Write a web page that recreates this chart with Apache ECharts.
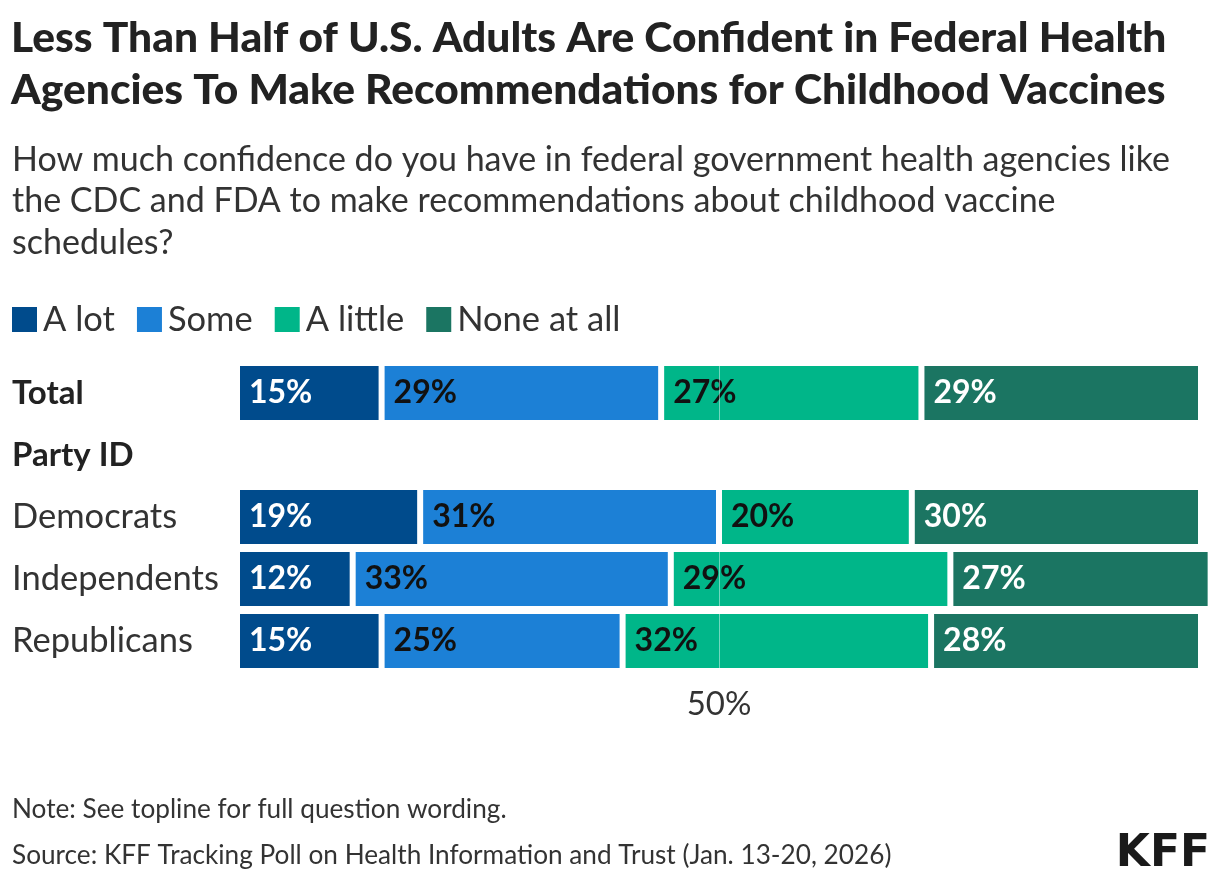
<!DOCTYPE html>
<html>
<head>
<meta charset="utf-8">
<script src="https://cdn.jsdelivr.net/npm/echarts@6/dist/echarts.min.js"></script>
<style>
html,body{margin:0;padding:0;background:#fff;}
#chart{width:1220px;height:882px;}
</style>
</head>
<body>
<div id="chart"></div>
<script>
const categories = ['Total', 'Party ID', 'Democrats', 'Independents', 'Republicans'];
const seriesNames = ['A lot', 'Some', 'A little', 'None at all'];
const aLot = [15, null, 19, 12, 15];
const some = [29, null, 31, 33, 25];
const aLittle = [27, null, 20, 29, 32];
const noneAtAll = [29, null, 30, 27, 28];
const tickLabels = {50: '50%'};

const colors = ['#004b8c', '#1c80d6', '#00b689', '#1b7562'];
const labelColors = ['#ffffff', '#111111', '#111111', '#ffffff'];
const values = [aLot, some, aLittle, noneAtAll];
const FONT = 'Lato';

const chart = echarts.init(document.getElementById('chart'));

const series = values.map((vals, i) => ({
  name: seriesNames[i],
  type: 'bar',
  stack: 'total',
  barWidth: 60,
  clip: false,
  data: vals,
  itemStyle: {color: colors[i], borderColor: '#ffffff', borderWidth: 3},
  label: {
    show: true,
    position: 'insideLeft',
    distance: 12,
    formatter: p => (p.value == null ? '' : p.value + '%'),
    fontFamily: FONT,
    fontSize: 32,
    fontWeight: 'bold',
    color: labelColors[i]
  },
  emphasis: {disabled: true}
}));
series[3].markLine = {
  silent: true,
  symbol: 'none',
  label: {show: false},
  lineStyle: {color: 'rgba(255,255,255,0.45)', width: 1, type: 'solid'},
  data: [{xAxis: 50}]
};

chart.setOption({
  animation: false,
  textStyle: {fontFamily: FONT},
  title: [
    {
      text: 'Less Than Half of U.S. Adults Are Confident in Federal Health\nAgencies To Make Recommendations for Childhood Vaccines',
      left: 6, top: 7,
      textStyle: {fontFamily: FONT, fontSize: 42.5, fontWeight: 900, color: '#222222', lineHeight: 52}
    },
    {
      text: 'How much confidence do you have in federal government health agencies like\nthe CDC and FDA to make recommendations about childhood vaccine\nschedules?',
      left: 7, top: 134,
      textStyle: {fontFamily: FONT, fontSize: 34, fontWeight: 'normal', color: '#333333', lineHeight: 41.5}
    },
    {
      text: 'Note: See topline for full question wording.',
      left: 7, top: 792,
      textStyle: {fontFamily: FONT, fontSize: 26.2, fontWeight: 'normal', color: '#333333'}
    },
    {
      text: 'Source: KFF Tracking Poll on Health Information and Trust (Jan. 13-20, 2026)',
      left: 7, top: 838,
      textStyle: {fontFamily: FONT, fontSize: 26.2, fontWeight: 'normal', color: '#333333'}
    },
    {
      text: 'KFF',
      right: 5, top: 828,
      textStyle: {fontFamily: 'DejaVu Sans', fontSize: 44, fontWeight: 'bold', color: '#1a1a1a'}
    }
  ],
  legend: {
    left: 7, top: 297,
    icon: 'rect',
    itemWidth: 25, itemHeight: 25,
    itemGap: 22,
    selectedMode: false,
    itemStyle: {borderWidth: 0},
    textStyle: {fontFamily: FONT, fontSize: 34.5, color: '#333333', padding: [0, 0, 0, 1]},
    data: seriesNames
  },
  grid: {left: 237, right: 19, top: 362, bottom: 210, containLabel: false},
  xAxis: {
    type: 'value',
    min: 0, max: 100, interval: 50,
    axisLine: {show: false},
    axisTick: {show: false},
    splitLine: {show: false},
    axisLabel: {
      margin: 16,
      fontFamily: FONT, fontSize: 33, color: '#333333',
      formatter: v => tickLabels[v] || ''
    }
  },
  yAxis: {
    type: 'category',
    inverse: true,
    data: categories,
    axisLine: {show: false},
    axisTick: {show: false},
    axisLabel: {
      align: 'left',
      margin: 225,
      fontFamily: FONT, fontSize: 34.5, color: '#333333',
      formatter: v => (v === 'Total' || v === 'Party ID') ? '{b|' + v + '}' : v,
      rich: {b: {fontFamily: FONT, fontSize: 33, fontWeight: 'bold', color: '#222222'}}
    }
  },
  series: series
});
</script>
</body>
</html>
